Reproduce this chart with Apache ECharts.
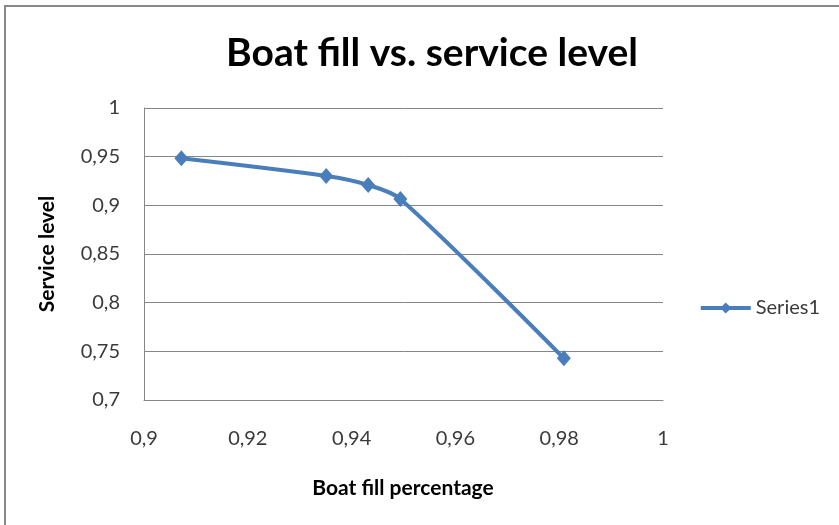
<!DOCTYPE html>
<html>
<head>
<meta charset="utf-8">
<script src="https://cdn.jsdelivr.net/npm/echarts@6/dist/echarts.min.js"></script>
<style>
  html, body { margin: 0; padding: 0; background: #fff; }
  #chart { width: 839px; height: 525px; }
</style>
</head>
<body>
<div id="chart"></div>
<script>
// Boat fill percentage vs. resulting service level
const boatFill = [0.9072, 0.9351, 0.9432, 0.9494, 0.9809];
const serviceLevel = [0.9483, 0.9301, 0.9209, 0.9065, 0.7428];
const seriesName = 'Series1';

const chartTitle = 'Boat fill vs. service level';
const xAxisTitle = 'Boat fill percentage';
const yAxisTitle = 'Service level';

const FONT = 'Lato, "Open Sans", sans-serif';
const LINE_BLUE = '#4A7EBB';
const TEXT_GRAY = '#3a3a3a';

// decimal comma, as in the original locale
const commaFmt = v => String(+v.toFixed(4)).replace('.', ',');

const points = boatFill.map((x, i) => [x, serviceLevel[i]]);

const chart = echarts.init(document.getElementById('chart'), null, { renderer: 'canvas' });

chart.setOption({
  animation: false,
  backgroundColor: '#fff',
  title: {
    text: chartTitle,
    left: 427,
    top: 29,
    textAlign: 'center',
    textStyle: { fontFamily: FONT, fontWeight: 'bold', fontSize: 39, color: '#000' }
  },
  legend: {
    data: [seriesName],
    right: 14,
    top: 293,
    itemWidth: 50,
    itemHeight: 14,
    lineStyle: { width: 4, color: LINE_BLUE },
    itemStyle: { color: LINE_BLUE },
    textStyle: { fontFamily: FONT, fontSize: 20, color: TEXT_GRAY }
  },
  grid: { left: 144, right: 176, top: 108, bottom: 125, containLabel: false },
  xAxis: {
    type: 'value',
    min: 0.9,
    max: 1,
    interval: 0.02,
    axisLine: { show: true, lineStyle: { color: '#868686', width: 1 } },
    axisTick: { show: false },
    splitLine: { show: false },
    axisLabel: {
      margin: 29,
      fontFamily: FONT,
      fontSize: 20,
      color: TEXT_GRAY,
      formatter: commaFmt
    }
  },
  yAxis: {
    type: 'value',
    min: 0.7,
    max: 1,
    interval: 0.05,
    axisLine: { show: true, lineStyle: { color: '#868686', width: 1 } },
    axisTick: { show: false },
    splitLine: { show: true, lineStyle: { color: '#868686', width: 1 } },
    axisLabel: {
      margin: 24,
      fontFamily: FONT,
      fontSize: 20,
      color: TEXT_GRAY,
      formatter: commaFmt
    }
  },
  series: [{
    name: seriesName,
    type: 'line',
    data: points,
    smooth: 0.3,
    symbol: 'diamond',
    symbolSize: [14, 16],
    showSymbol: true,
    lineStyle: { color: LINE_BLUE, width: 4 },
    itemStyle: { color: LINE_BLUE }
  }],
  graphic: [
    {
      type: 'rect',
      shape: { x: 5, y: 6, width: 900, height: 600 },
      style: { fill: 'none', stroke: '#888', lineWidth: 2 },
      silent: true
    },
    {
      type: 'text',
      x: 403,
      y: 488,
      style: {
        text: xAxisTitle,
        font: 'bold 21px ' + FONT,
        fill: '#000',
        align: 'center',
        verticalAlign: 'middle'
      }
    },
    {
      type: 'text',
      x: 47,
      y: 254,
      rotation: Math.PI / 2,
      style: {
        text: yAxisTitle,
        font: 'bold 21px ' + FONT,
        fill: '#000',
        align: 'center',
        verticalAlign: 'middle'
      }
    }
  ]
});
</script>
</body>
</html>
